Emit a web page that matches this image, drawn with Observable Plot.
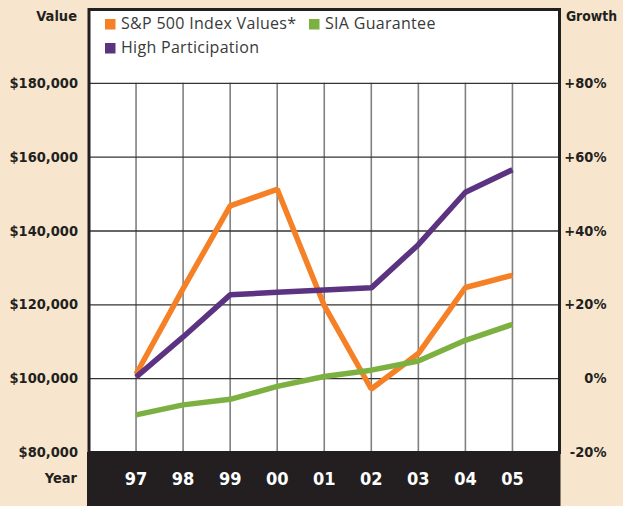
<!DOCTYPE html>
<html><head><meta charset="utf-8">
<script src="https://cdn.jsdelivr.net/npm/d3@7"></script>
<script src="https://cdn.jsdelivr.net/npm/@observablehq/plot@0.6"></script>
<style>
html,body{margin:0;padding:0;background:#f7e6cd;overflow:hidden;}
#chart svg{display:block;}
</style></head><body><div id="chart"></div>
<script>
const years = [1997, 1998, 1999, 2000, 2001, 2002, 2003, 2004, 2005];
const yearLabels = ["97", "98", "99", "00", "01", "02", "03", "04", "05"];
const sp500 = [101200, 124400, 146800, 151300, 119800, 97200, 106800, 124700, 128000];
const siaGuarantee = [90200, 92900, 94400, 97900, 100600, 102300, 104800, 110400, 114700];
const highParticipation = [100400, 111300, 122700, 123400, 124000, 124600, 136300, 150500, 156600];
const valueTicks = [80000, 100000, 120000, 140000, 160000, 180000];
const growthTicks = ["-20%", "0%", "+20%", "+40%", "+60%", "+80%"];
const seriesNames = ["S&P 500 Index Values*", "SIA Guarantee", "High Participation"];
const seriesColors = ["#f58025", "#7cb142", "#5c3380"];

const seriesData = [sp500, siaGuarantee, highParticipation];
const rows = [];
seriesNames.forEach((name, s) => {
  years.forEach((yr, i) => rows.push({year: yr, value: seriesData[s][i], series: name}));
});
const yearRows = years.map((y, i) => ({year: y, label: yearLabels[i]}));
const tickRows = valueTicks.map((v, i) => ({value: v, money: "$" + d3.format(",")(v), growth: growthTicks[i]}));

const boldFont = "'DejaVu Sans Condensed', 'DejaVu Sans', sans-serif";
const ink = "#231f20";

const chart = Plot.plot({
  width: 623, height: 506,
  marginLeft: 88.5, marginRight: 64, marginTop: 9, marginBottom: 54,
  style: {background: "transparent", overflow: "visible"},
  x: {domain: [1996, 2006], axis: null},
  y: {domain: [80000, 200000], axis: null},
  color: {domain: seriesNames, range: seriesColors},
  marks: [
    Plot.frame({fill: "white"}),
    Plot.ruleX(years, {y1: 80000, y2: 180000, stroke: "#808080", strokeWidth: 1.6}),
    Plot.ruleY(valueTicks, {stroke: "#333", strokeWidth: 1.4}),
    Plot.line(rows, {x: "year", y: "value", z: "series", stroke: "series", strokeWidth: 5.5,
      strokeLinecap: "butt", strokeLinejoin: "miter"}),
    Plot.frame({stroke: ink, strokeWidth: 3}),
    Plot.text(tickRows, {x: 1996, y: "value", text: "money", textAnchor: "end", dx: -11,
      fontWeight: "bold", fontSize: 14.5, fill: ink, fontFamily: boldFont}),
    Plot.text(tickRows, {x: 2006, y: "value", text: "growth", textAnchor: "end", dx: 47,
      fontWeight: "bold", fontSize: 14.5, fill: ink, fontFamily: boldFont}),
    Plot.text(yearRows, {x: "year", y: 80000, text: "label", dy: 27, fill: "white",
      fontWeight: "bold", fontSize: 18, fontFamily: boldFont})
  ]
});

const svg = d3.select(chart);
const xs = chart.scale("x"), ys = chart.scale("y");
const bx0 = xs.apply(1996) - 1.5, bx1 = xs.apply(2006) + 1.5, by0 = ys.apply(80000);
svg.insert("rect", ":first-child")
  .attr("x", bx0).attr("y", by0).attr("width", bx1 - bx0).attr("height", 506 - by0)
  .attr("fill", ink);

function title(txt, x, y, anchor, size) {
  svg.append("text").text(txt).attr("x", x).attr("y", y).attr("text-anchor", anchor)
    .attr("dominant-baseline", "middle")
    .attr("font-family", boldFont).attr("font-weight", "bold").attr("font-size", size)
    .attr("fill", ink);
}
title("Value", 77, 17, "end", 14.5);
title("Growth", 617, 17, "end", 13.8);
title("Year", 77, 479, "end", 14.5);

// legend
const legendItems = [
  {name: seriesNames[0], x: 105, y: 24},
  {name: seriesNames[1], x: 309, y: 24},
  {name: seriesNames[2], x: 105, y: 48}
];
const lg = svg.append("g").attr("text-anchor", "start");
legendItems.forEach((it) => {
  const col = seriesColors[seriesNames.indexOf(it.name)];
  lg.append("rect").attr("x", it.x).attr("y", it.y - 5).attr("width", 10.5).attr("height", 10.5).attr("fill", col);
  lg.append("text").text(it.name).attr("x", it.x + 16).attr("y", it.y + 0.5)
    .attr("text-anchor", "start")
    .attr("dominant-baseline", "middle")
    .attr("font-family", "'Open Sans', sans-serif").attr("font-size", 16)
    .attr("letter-spacing", 0.3).attr("fill", "#3a3a3a");
});

document.getElementById("chart").appendChild(chart);
</script>
</body></html>
